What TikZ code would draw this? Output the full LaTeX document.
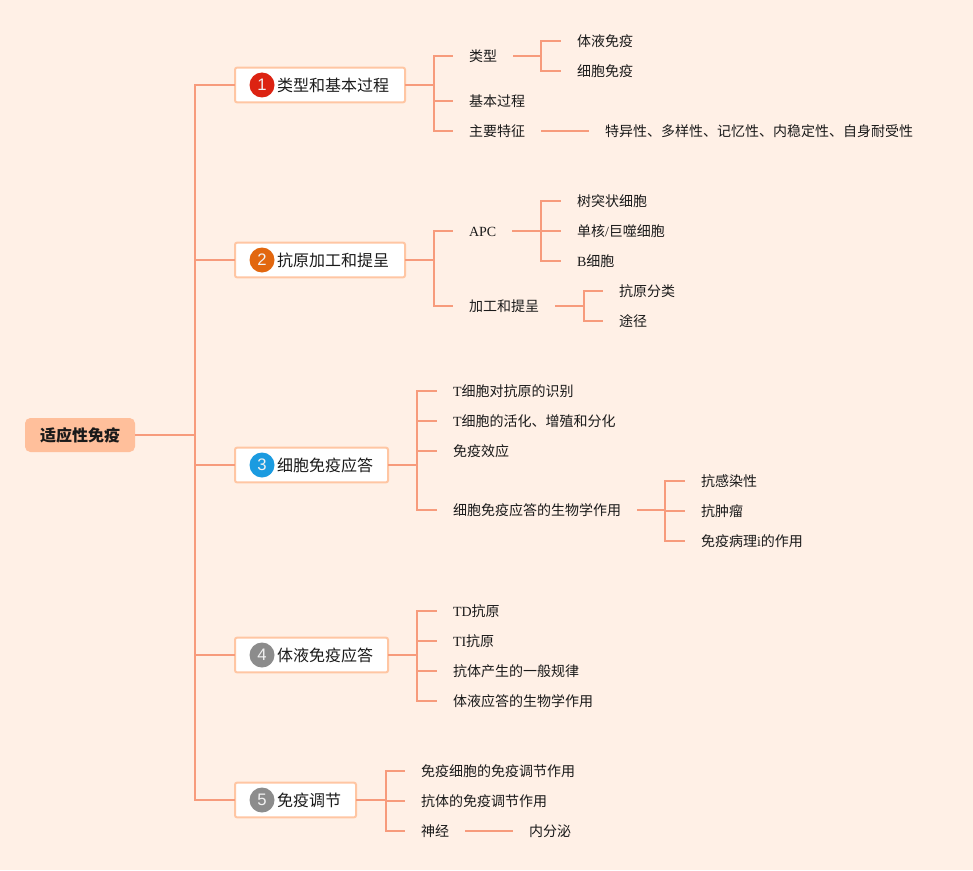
\documentclass[tikz,border=0pt]{standalone}
\usepackage{fontspec}
\setmainfont{Liberation Serif}
\newfontfamily\cjk{Noto Sans CJK SC}
\newfontfamily\numfont{Liberation Sans}
\newcommand{\cj}[1]{{\cjk #1}}
\definecolor{bgc}{HTML}{FFF0E6}
\definecolor{linec}{HTML}{F79B7C}
\definecolor{boxline}{HTML}{FFC6A3}
\definecolor{rootc}{HTML}{FFBF9B}
\definecolor{ink}{HTML}{1A1A1A}
\definecolor{bone}{HTML}{DC2312}
\definecolor{btwo}{HTML}{E2670F}
\definecolor{bthree}{HTML}{1B9BE0}
\definecolor{bfour}{HTML}{8C8C8C}
\tikzset{
  leaf/.style={anchor=west,outer sep=0pt,inner xsep=12pt,inner ysep=0pt,text height=10pt,text depth=1.5pt,font=\fontsize{10.5}{12}\selectfont,text=ink},
  topic/.style={anchor=west,outer sep=0pt,draw=boxline,line width=1.5pt,fill=white,rounded corners=1.5pt,inner xsep=12pt,inner ysep=0pt,minimum height=26pt,text height=11.5pt,text depth=1.8pt,font=\fontsize{12}{14}\selectfont,text=ink},
  rootbox/.style={anchor=west,outer sep=0pt,fill=rootc,rounded corners=4pt,inner xsep=11.25pt,inner ysep=0pt,minimum height=25.5pt,text height=11.5pt,text depth=1.8pt,font=\fontsize{12}{14}\selectfont\bfseries,text=ink},
  badge/.style={circle,inner sep=0pt,minimum size=18.75pt,text=white!90!gray,font=\numfont\fontsize{12.5}{14}\selectfont},
  link/.style={draw=linec,line width=1.5pt,line join=miter}
}
\newcommand{\lnk}[3]{\draw[link] (#1.east) -- ++(#2,0) |- (#3.west);}
\newcommand{\tpc}[1]{\hspace*{19.5pt}\cj{#1}}
\newcommand{\tpcn}[1]{\hspace*{19.5pt}\cj{#1}\hspace*{-0.75pt}}
\begin{document}
\begin{tikzpicture}[x=0.75pt,y=-0.75pt]
\useasboundingbox (0,0) rectangle (973,870);
\fill[bgc] (0,0) rectangle (973,870);
% root
\node[rootbox] (root) at (25,435) {\cj{适应性免疫}};
% topics
\node[topic] (t1) at (235,85) {\tpc{类型和基本过程}};
\node[topic] (t2) at (235,260) {\tpc{抗原加工和提呈}};
\node[topic] (t3) at (235,465) {\tpcn{细胞免疫应答}};
\node[topic] (t4) at (235,655) {\tpcn{体液免疫应答}};
\node[topic] (t5) at (235,800) {\tpcn{免疫调节}};
\node[badge,fill=bone] (b1) at (262,85) {1};
\node[badge,fill=btwo] (b2) at (262,260) {2};
\node[badge,fill=bthree] (b3) at (262,465) {3};
\node[badge,fill=bfour] (b4) at (262,655) {4};
\node[badge,fill=bfour] (b5) at (262,800) {5};
% branch 1
\node[leaf] (a1) at (453,56) {\cj{类型}};
\node[leaf] (a2) at (453,101) {\cj{基本过程}};
\node[leaf] (a3) at (453,131) {\cj{主要特征}};
\node[leaf] (a11) at (561,41) {\cj{体液免疫}};
\node[leaf] (a12) at (561,71) {\cj{细胞免疫}};
\node[leaf] (a31) at (589,131) {\cj{特异性、多样性、记忆性、内稳定性、自身耐受性}};
% branch 2
\node[leaf] (c1) at (453,231) {APC};
\node[leaf] (c2) at (453,306) {\cj{加工和提呈}};
\node[leaf] (c11) at (561,201) {\cj{树突状细胞}};
\node[leaf] (c12) at (561,231) {\cj{单核}/\cj{巨噬细胞}};
\node[leaf] (c13) at (561,261) {B\cj{细胞}};
\node[leaf] (c21) at (603,291) {\cj{抗原分类}};
\node[leaf] (c22) at (603,321) {\cj{途径}};
% branch 3
\node[leaf] (d1) at (437,391) {T\cj{细胞对抗原的识别}};
\node[leaf] (d2) at (437,421) {T\cj{细胞的活化、增殖和分化}};
\node[leaf] (d3) at (437,451) {\cj{免疫效应}};
\node[leaf] (d4) at (437,510) {\cj{细胞免疫应答的生物学作用}};
\node[leaf] (d41) at (685,481) {\cj{抗感染性}};
\node[leaf] (d42) at (685,511) {\cj{抗肿瘤}};
\node[leaf] (d43) at (685,541) {\cj{免疫病理}i\cj{的作用}};
% branch 4
\node[leaf] (e1) at (437,611) {TD\cj{抗原}};
\node[leaf] (e2) at (437,641) {TI\cj{抗原}};
\node[leaf] (e3) at (437,671) {\cj{抗体产生的一般规律}};
\node[leaf] (e4) at (437,701) {\cj{体液应答的生物学作用}};
% branch 5
\node[leaf] (f1) at (405,771) {\cj{免疫细胞的免疫调节作用}};
\node[leaf] (f2) at (405,801) {\cj{抗体的免疫调节作用}};
\node[leaf] (f3) at (405,831) {\cj{神经}};
\node[leaf] (f31) at (513,831) {\cj{内分泌}};
% connectors
\foreach \t in {t1,t2,t3,t4,t5} {\lnk{root}{60}{\t}}
\foreach \t in {a1,a2,a3} {\lnk{t1}{29}{\t}}
\foreach \t in {a11,a12} {\lnk{a1}{28}{\t}}
\draw[link] (a3.east) -- (a31.west);
\foreach \t in {c1,c2} {\lnk{t2}{29}{\t}}
\foreach \t in {c11,c12,c13} {\lnk{c1}{29}{\t}}
\foreach \t in {c21,c22} {\lnk{c2}{29}{\t}}
\foreach \t in {d1,d2,d3,d4} {\lnk{t3}{29}{\t}}
\foreach \t in {d41,d42,d43} {\lnk{d4}{28}{\t}}
\foreach \t in {e1,e2,e3,e4} {\lnk{t4}{29}{\t}}
\foreach \t in {f1,f2,f3} {\lnk{t5}{30}{\t}}
\draw[link] (f3.east) -- (f31.west);
\end{tikzpicture}
\end{document}
